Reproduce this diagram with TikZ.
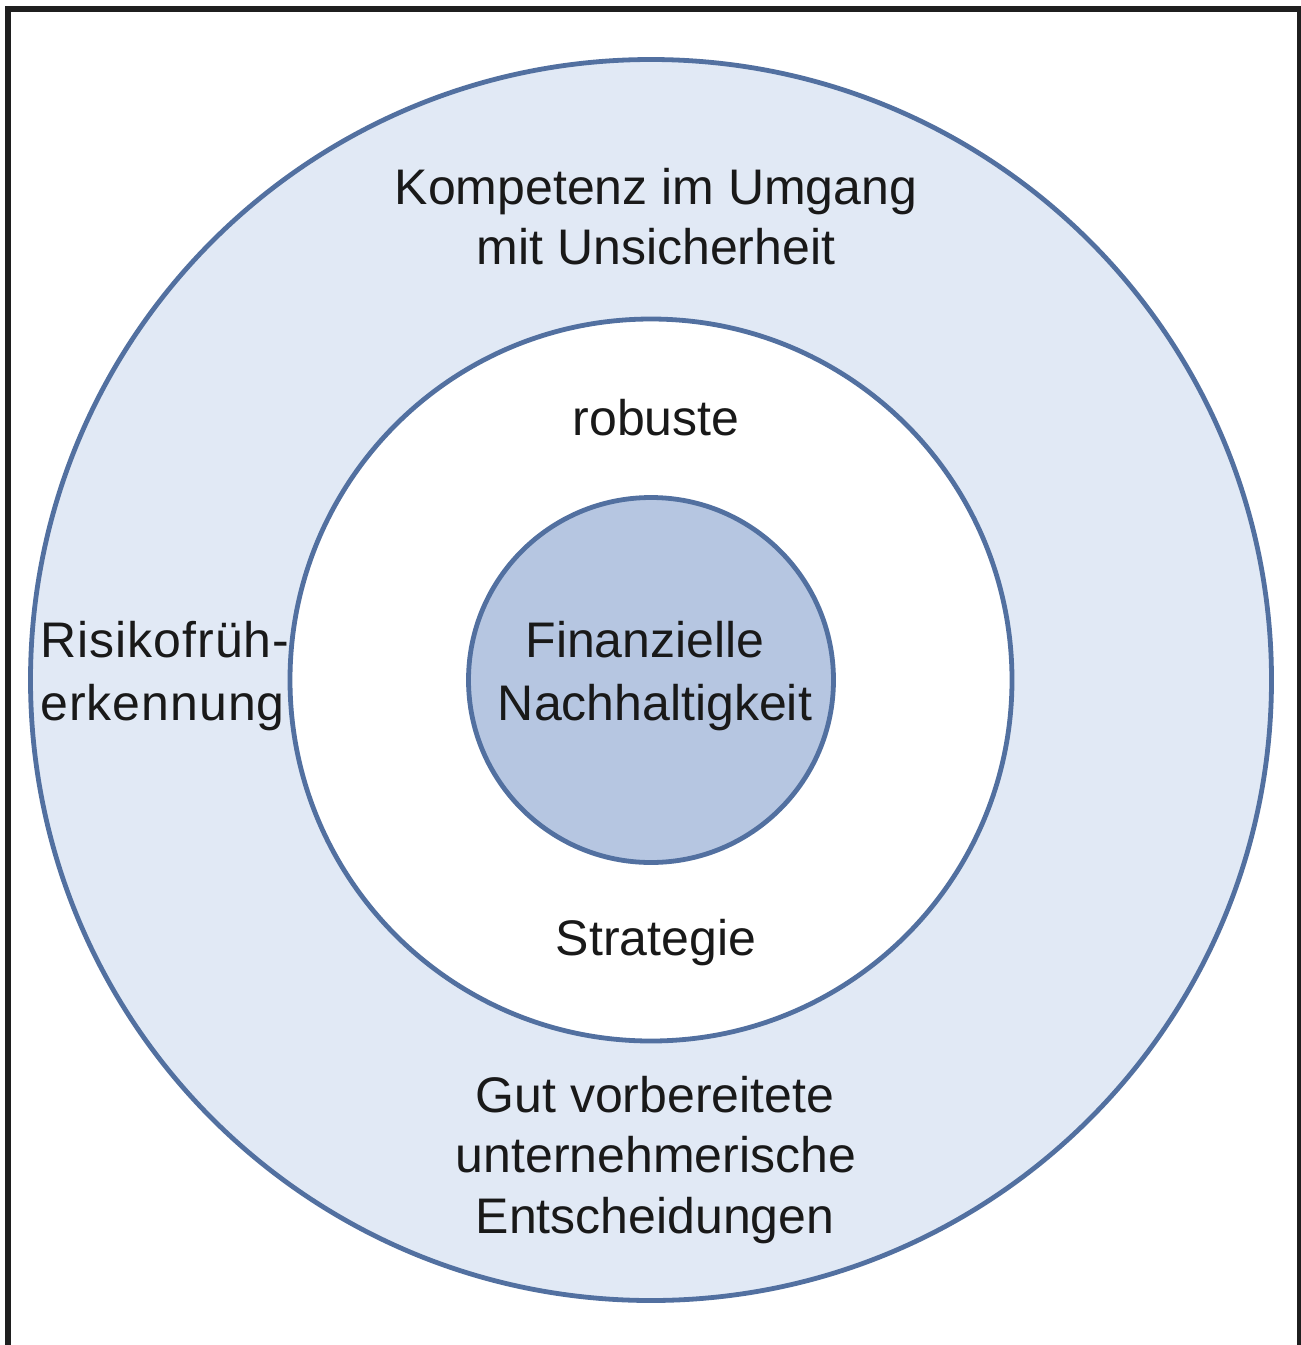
\documentclass[tikz,border=0pt]{standalone}
\usepackage{fontspec}
\setmainfont{Liberation Sans}
\definecolor{ringline}{RGB}{82,112,160}
\definecolor{outerfill}{RGB}{225,233,245}
\definecolor{corefill}{RGB}{182,198,225}
\begin{document}
\begin{tikzpicture}[x=0.5pt,y=-0.5pt,
  ring/.style={draw=ringline,line width=2.4pt},
  label/.style={inner sep=0pt,anchor=base,font=\fontsize{25pt}{30pt}\selectfont,text=black!90}]
\useasboundingbox (0,0) rectangle (1301,1345);
\clip (0,0) rectangle (1301,1345);
\fill[white] (0,0) rectangle (1301,1345);
% outer frame (open at the bottom)
\draw[line width=3pt,black!88] (8,1360) -- (8,9) -- (1300,9) -- (1300,1360);
% concentric rings
\node[ring,circle,fill=outerfill,minimum size=1241*0.5pt,inner sep=0pt] (outer) at (651,680) {};
\node[ring,circle,fill=white,minimum size=722*0.5pt,inner sep=0pt] (middle) at (651,680) {};
\node[ring,circle,fill=corefill,minimum size=365*0.5pt,inner sep=0pt] (core) at (651,680) {};
% outer ring labels
\node[label] (komp1) at (656,204) {Kompetenz im Umgang};
\node[label] (komp2) at (656,264) {mit Unsicherheit};
\node[label,anchor=base west] (risk1) at (40,657) {\addfontfeatures{LetterSpace=2}Risikofrüh-};
\node[label,anchor=base west] (risk2) at (40,720) {\addfontfeatures{LetterSpace=2}erkennung};
\node[label] (gut1) at (655,1112) {Gut vorbereitete};
\node[label] (gut2) at (656,1172) {unternehmerische};
\node[label] (gut3) at (655,1233) {Entscheidungen};
% middle ring labels
\node[label] (rob) at (656,435) {robuste};
\node[label] (strat) at (656,955) {Strategie};
% core labels
\node[label] (fin1) at (645,657) {Finanzielle};
\node[label] (fin2) at (655,720) {Nachhaltigkeit};
\end{tikzpicture}
\end{document}
